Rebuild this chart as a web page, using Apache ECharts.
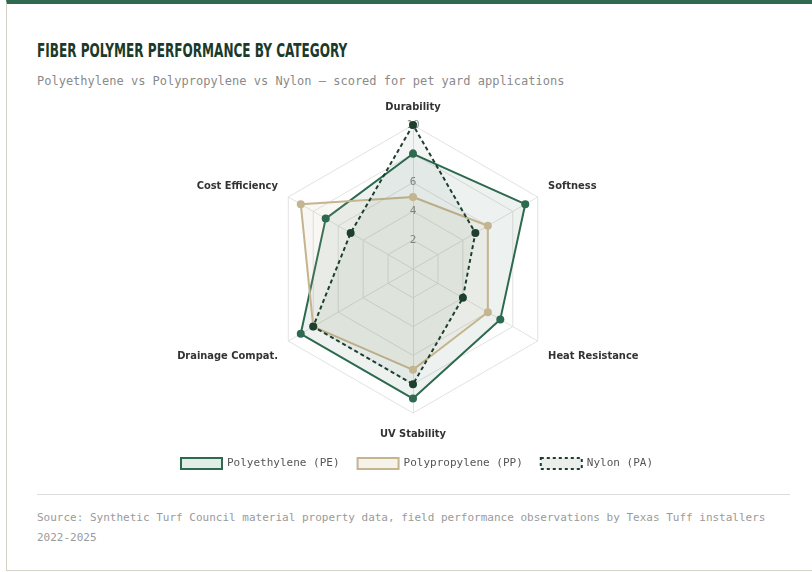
<!DOCTYPE html>
<html>
<head>
<meta charset="utf-8">
<script src="https://cdn.jsdelivr.net/npm/echarts@6/dist/echarts.min.js"></script>
<style>
	html, body { margin: 0; padding: 0; background: #fff; }
	#card {
		position: absolute; left: 6px; top: 0; width: 830px; height: 566px;
		border-top: 4px solid #2d6a4f;
		border-left: 1px solid #d6d3c9;
		border-bottom: 1px solid #d6d3c9;
	}
	#title {
		position: absolute; left: 37px; top: 39px;
		font-family: "DejaVu Sans Condensed", "DejaVu Sans", sans-serif;
		font-weight: bold; font-size: 19px; color: #1b3a2b;
		white-space: nowrap;
		transform: scaleX(0.706); transform-origin: left center;
	}
	#subtitle {
		position: absolute; left: 37px; top: 74px;
		font-family: "DejaVu Sans Mono", "Liberation Mono", monospace;
		font-size: 12px; color: #8a8a8a;
	}
	#sep {
		position: absolute; left: 37px; top: 494px; width: 753px; height: 1px; background: #dcdcdc;
	}
	#source {
		position: absolute; left: 37px; top: 508px; width: 745px;
		font-family: "DejaVu Sans Mono", "Liberation Mono", monospace;
		font-size: 11px; line-height: 20px; color: #9a9a9a;
	}
	#main { position: absolute; left: 0; top: 0; width: 812px; height: 572px; }
</style>
</head>
<body>
<div id="card"></div>
<div id="title">FIBER POLYMER PERFORMANCE BY CATEGORY</div>
<div id="subtitle">Polyethylene vs Polypropylene vs Nylon — scored for pet yard applications</div>
<div id="sep"></div>
<div id="source">Source: Synthetic Turf Council material property data, field performance observations by Texas Tuff installers 2022-2025</div>
<div id="main"></div>
<script>
// categories listed counter-clockwise from the top (echarts radar order)
var categories = ["Durability", "Cost Efficiency", "Drainage Compat.", "UV Stability", "Heat Resistance", "Softness"];
var seriesNames = ["Polyethylene (PE)", "Polypropylene (PP)", "Nylon (PA)"];
var peValues = [8, 7, 9, 9, 7, 9];
var ppValues = [5, 9, 8, 7, 6, 6];
var paValues = [10, 5, 8, 8, 4, 5];
var maxScore = 10;

var condensed = '"DejaVu Sans Condensed", "DejaVu Sans", sans-serif';
var mono = '"DejaVu Sans Mono", "Liberation Mono", monospace';

var green = '#2d6a4f';
var tan = '#c4b590';
var dark = '#1d3f2e';

var chart = echarts.init(document.getElementById('main'));

var indicator = [];
for (var i = 0; i < categories.length; i++) {
	indicator.push({ name: categories[i], max: maxScore, min: 0 });
}

// which rich style each axis name gets (nudges the side labels up / down)
function nameStyle(name) {
	var idx = categories.indexOf(name);
	if (idx === 1 || idx === 5) return 'up';
	if (idx === 2 || idx === 4) return 'down';
	if (idx === 3) return 'bottom';
	return 'top';
}

var nameFont = { color: '#333', fontFamily: condensed, fontWeight: 'bold', fontSize: 11 };

var option = {
	animation: false,
	legend: {
		bottom: 97,
		left: 175,
		icon: 'rect',
		itemWidth: 41,
		itemHeight: 11,
		itemGap: 17,
		textStyle: { fontFamily: mono, fontSize: 11, color: '#555' },
		data: [
			{ name: seriesNames[0], itemStyle: { color: '#e3ede7', borderColor: green, borderWidth: 2 } },
			{ name: seriesNames[1], itemStyle: { color: '#f5f2ea', borderColor: tan, borderWidth: 2 } },
			{ name: seriesNames[2], itemStyle: { color: '#eceeec', borderColor: dark, borderWidth: 2, borderType: [3, 3] } }
		]
	},
	radar: {
		center: [413, 269],
		radius: 144,
		splitNumber: 5,
		indicator: indicator,
		axisName: {
			formatter: function (name) {
				return '{' + nameStyle(name) + '|' + name + '}';
			},
			rich: {
				top: Object.assign({}, nameFont),
				up: Object.assign({ padding: [0, 0, 10, 0] }, nameFont),
				down: Object.assign({ padding: [18, 0, 0, 0] }, nameFont),
				bottom: Object.assign({ padding: [4, 0, 0, 0] }, nameFont)
			}
		},
		nameGap: 12,
		splitLine: { lineStyle: { color: '#e2e2e2' } },
		axisLine: { lineStyle: { color: '#e2e2e2' } },
		splitArea: { show: false }
	},
	polar: { center: [413, 269], radius: 144 },
	angleAxis: { show: false, startAngle: 90, min: 0, max: 360 },
	radiusAxis: {
		min: 0, max: maxScore, interval: 2,
		axisLine: { show: false },
		axisTick: { show: false },
		splitLine: { show: false },
		axisLabel: { showMinLabel: false, margin: 0, align: 'center', verticalAlign: 'middle', padding: [3, 0, 0, 0], color: '#888', fontFamily: mono, fontSize: 11 },
		z: 1
	},
	series: [{
		type: 'radar',
		symbol: 'circle',
		symbolSize: 8,
		z: 3,
		data: [
			{
				name: seriesNames[0], value: peValues,
				lineStyle: { color: green, width: 2 },
				itemStyle: { color: green },
				areaStyle: { color: 'rgba(45,106,79,0.12)' }
			},
			{
				name: seriesNames[1], value: ppValues,
				lineStyle: { color: tan, width: 2 },
				itemStyle: { color: tan },
				areaStyle: { color: 'rgba(196,181,144,0.15)' }
			},
			{
				name: seriesNames[2], value: paValues,
				lineStyle: { color: dark, width: 2, type: [4, 3] },
				itemStyle: { color: dark },
				areaStyle: { color: 'rgba(29,63,46,0.07)' }
			}
		]
	}]
};

chart.setOption(option);
</script>
</body>
</html>
